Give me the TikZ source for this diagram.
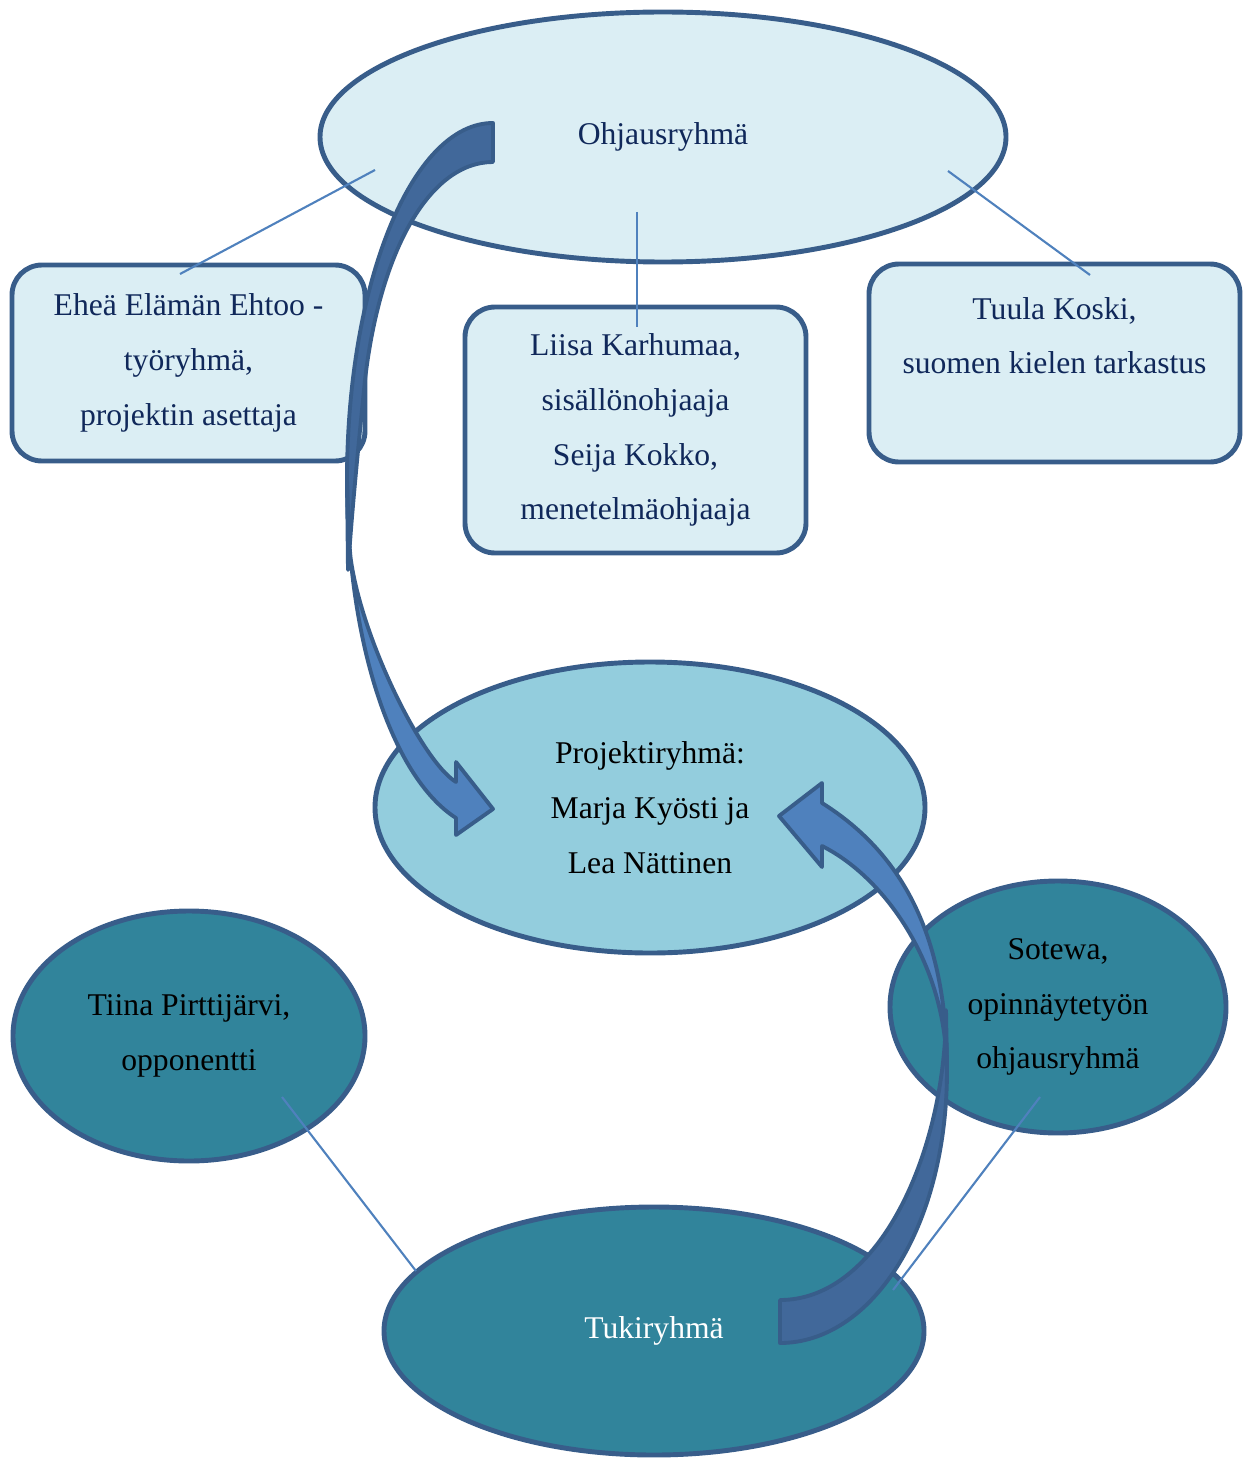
\documentclass[tikz,border=0pt]{standalone}
\usepackage{fontspec}
\setmainfont{Liberation Serif}
\usetikzlibrary{shapes, positioning}

\definecolor{rim}{HTML}{385D8A}
\definecolor{pale}{HTML}{DBEEF4}
\definecolor{mid}{HTML}{93CDDD}
\definecolor{teal}{HTML}{31849B}
\definecolor{navy}{HTML}{10285A}
\definecolor{link}{HTML}{4F81BD}
\definecolor{arrdark}{HTML}{41689A}
\definecolor{arrlight}{HTML}{4F81BD}

\begin{document}
\begin{tikzpicture}[style=thick,line join=round]
            \useasboundingbox (0,0) rectangle (12.48,-14.58);
            \begin{scope}[line width=1.4pt]
            \tikzstyle{every node}=[draw=rim,align=center,inner sep=0pt,font=\fontsize{9}{15.6}\selectfont]
            \tikzstyle{oval}=[shape=ellipse]
            \tikzstyle{card}=[shape=rectangle,rounded corners=0.3cm,fill=pale,text=navy]

            \node[oval,fill=pale,text=navy,minimum width=6.86cm,minimum height=2.5cm] (ohj) at (6.63,-1.37) {Ohjausryhmä};

            \node[card,minimum width=3.53cm,minimum height=1.96cm] (b_1) at (1.885,-3.63) {Eheä Elämän Ehtoo -\\työryhmä,\\projektin asettaja};
            \node[card,minimum width=3.41cm,minimum height=2.46cm] (b_2) at (6.355,-4.30) {Liisa Karhumaa,\\sisällönohjaaja\\Seija Kokko,\\menetelmäohjaaja};
            \node[card,minimum width=3.71cm,minimum height=1.98cm] (b_3) at (10.545,-3.63) {Tuula Koski,\\suomen kielen tarkastus\\~};

            \node[oval,fill=mid,text=black,minimum width=5.5cm,minimum height=2.91cm] (proj) at (6.50,-8.075) {Projektiryhmä:\\Marja Kyösti ja\\Lea Nättinen};

            \node[oval,fill=teal,text=black,minimum width=3.52cm,minimum height=2.5cm] (e_1) at (1.89,-10.36) {Tiina Pirttijärvi,\\opponentti};
            \node[oval,fill=teal,text=black,minimum width=3.36cm,minimum height=2.52cm] (e_2) at (10.58,-10.07) {Sotewa,\\opinnäytetyön\\ohjausryhmä};
            \node[oval,fill=teal,text=white,minimum width=5.4cm,minimum height=2.48cm] (tuki) at (6.54,-13.31) {Tukiryhmä};
            \end{scope}

            % connectors
            \coordinate (l_1a) at (3.75,-1.70);
            \coordinate (l_1b) at (1.80,-2.74);
            \coordinate (l_2a) at (6.37,-2.12);
            \coordinate (l_2b) at (6.37,-3.27);
            \coordinate (l_3a) at (9.48,-1.71);
            \coordinate (l_3b) at (10.90,-2.75);
            \coordinate (l_4a) at (2.82,-10.97);
            \coordinate (l_4b) at (4.16,-12.71);
            \coordinate (l_5a) at (10.40,-10.97);
            \coordinate (l_5b) at (8.93,-12.90);

            \draw [-,link,line width=0.6pt] (l_1a) -- (l_1b);
            \draw [-,link,line width=0.6pt] (l_2a) -- (l_2b);
            \draw [-,link,line width=0.6pt] (l_3a) -- (l_3b);
            \draw [-,link,line width=0.6pt] (l_4a) -- (l_4b);
            \draw [-,link,line width=0.6pt] (l_5a) -- (l_5b);

            % curved block arrows
            \filldraw[fill=arrdark,draw=rim,line width=1.1pt] (4.93,-1.23) .. controls (4.12,-1.23) and (3.47,-2.83) .. (3.47,-4.80) -- (3.48,-5.70) .. controls (3.52,-5.10) and (3.58,-4.50) .. (3.65,-3.80) .. controls (3.80,-2.50) and (4.30,-1.62) .. (4.93,-1.62) -- cycle;
            \filldraw[fill=arrlight,draw=rim,line width=1.1pt] (3.47,-4.80) .. controls (3.47,-6.42) and (3.92,-7.77) .. (4.56,-8.18) -- (4.56,-8.35) -- (4.93,-8.09) -- (4.56,-7.62) -- (4.56,-7.82) .. controls (4.20,-7.60) and (3.52,-6.20) .. (3.49,-5.40) -- cycle;

            \filldraw[fill=arrdark,draw=rim,line width=1.1pt] (7.80,-13.43) .. controls (8.70,-13.43) and (9.47,-12.30) .. (9.47,-10.70) -- (9.46,-10.10) .. controls (9.46,-11.50) and (8.80,-13.00) .. (7.80,-13.00) -- cycle;
            \filldraw[fill=arrlight,draw=rim,line width=1.1pt] (9.47,-10.70) .. controls (9.47,-9.40) and (9.05,-8.55) .. (8.22,-8.03) -- (8.22,-7.83) -- (7.79,-8.16) -- (8.22,-8.67) -- (8.22,-8.46) .. controls (8.80,-8.75) and (9.35,-9.50) .. (9.45,-10.40) -- cycle;
\end{tikzpicture}
\end{document}
